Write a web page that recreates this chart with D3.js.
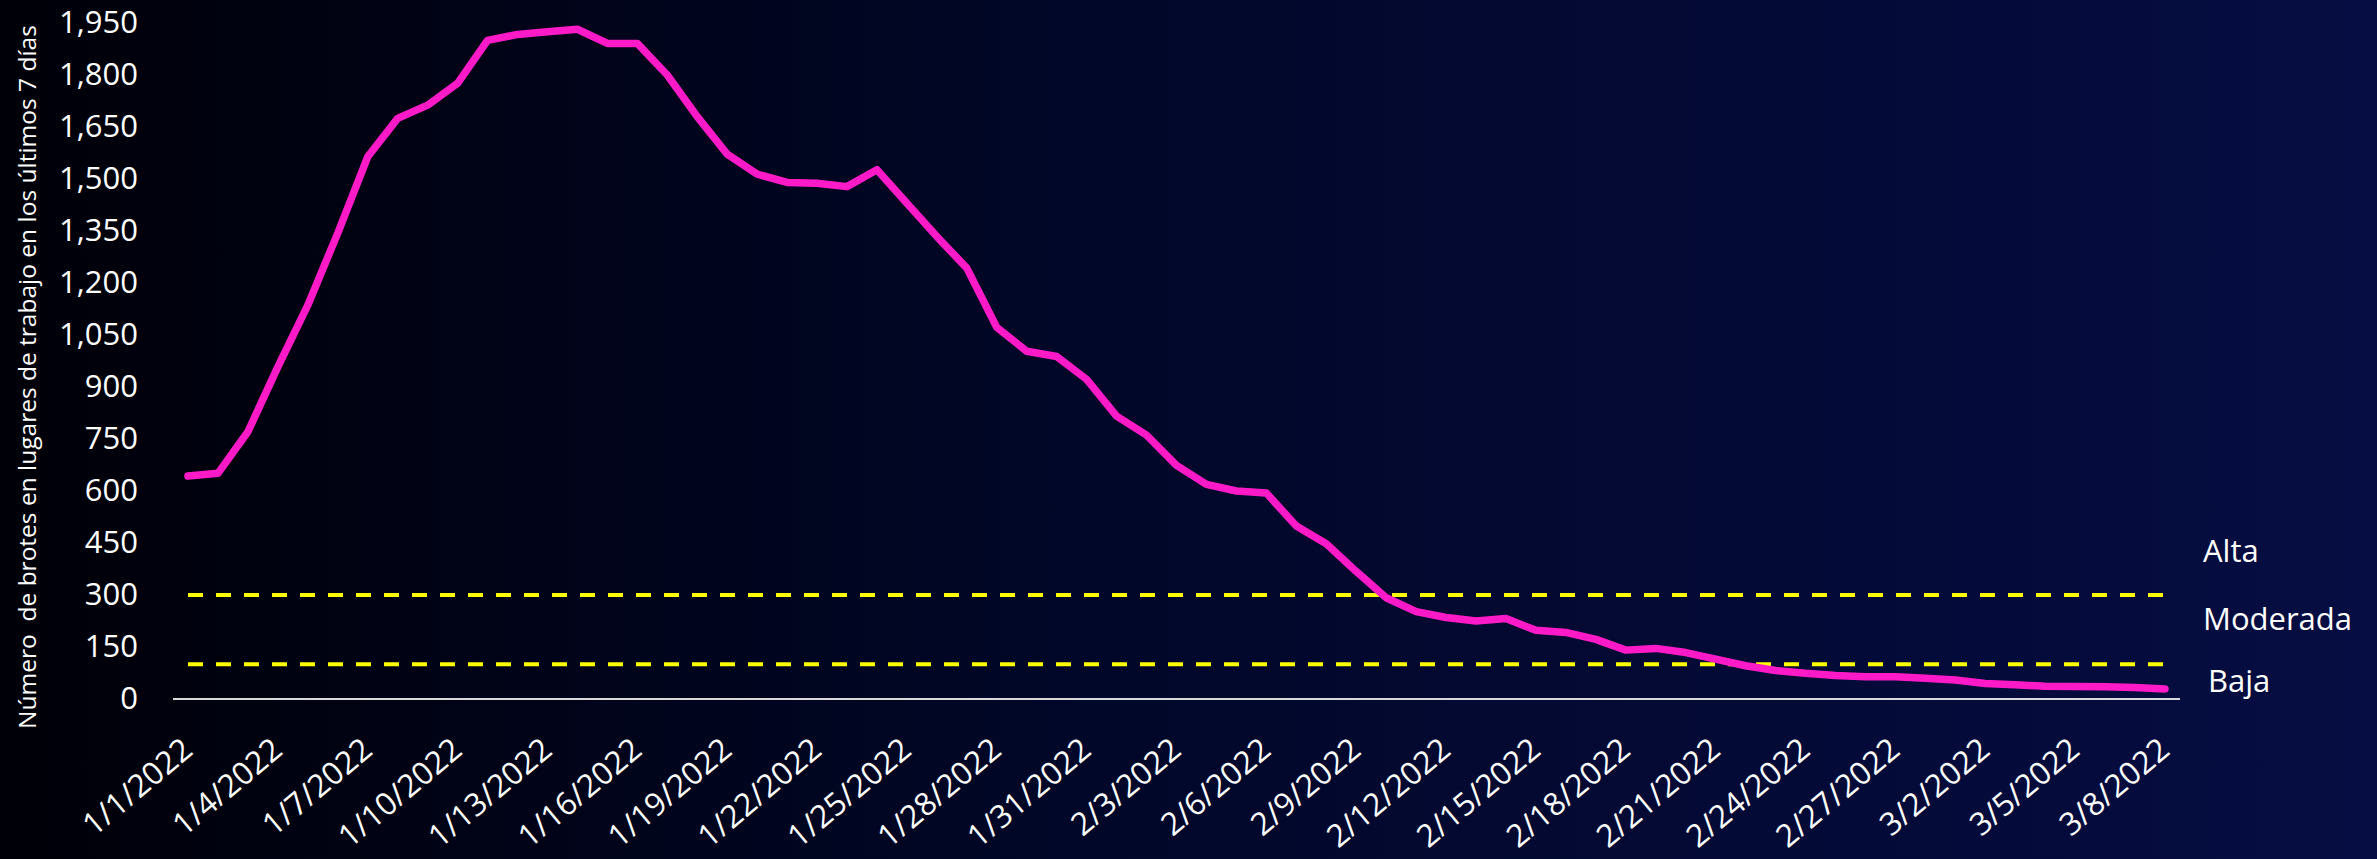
<!DOCTYPE html>
<html>
<head>
<meta charset="utf-8">
<script src="https://cdn.jsdelivr.net/npm/d3@7"></script>
<style>
  body { margin: 0; background: #000; }
  svg { display: block; }
  text { font-family: "Open Sans", sans-serif; fill: #fff; }
</style>
</head>
<body>
<div class="chart"></div>
<script>

const dates = [
  '1/1/2022','1/2/2022','1/3/2022','1/4/2022','1/5/2022','1/6/2022','1/7/2022','1/8/2022','1/9/2022','1/10/2022',
  '1/11/2022','1/12/2022','1/13/2022','1/14/2022','1/15/2022','1/16/2022','1/17/2022','1/18/2022','1/19/2022','1/20/2022',
  '1/21/2022','1/22/2022','1/23/2022','1/24/2022','1/25/2022','1/26/2022','1/27/2022','1/28/2022','1/29/2022','1/30/2022',
  '1/31/2022','2/1/2022','2/2/2022','2/3/2022','2/4/2022','2/5/2022','2/6/2022','2/7/2022','2/8/2022','2/9/2022',
  '2/10/2022','2/11/2022','2/12/2022','2/13/2022','2/14/2022','2/15/2022','2/16/2022','2/17/2022','2/18/2022','2/19/2022',
  '2/20/2022','2/21/2022','2/22/2022','2/23/2022','2/24/2022','2/25/2022','2/26/2022','2/27/2022','2/28/2022','3/1/2022',
  '3/2/2022','3/3/2022','3/4/2022','3/5/2022','3/6/2022','3/7/2022','3/8/2022'
];

// brotes en los ultimos 7 dias
const outbreaks = [
  643, 651, 771, 958, 1136, 1344, 1564, 1675, 1713, 1776,
  1900, 1917, 1925, 1932, 1891, 1891, 1800, 1680, 1572, 1514,
  1490, 1488, 1478, 1527, 1430, 1334, 1243, 1072, 1003, 988,
  922, 816, 761, 674, 619, 600, 594, 499, 448, 368,
  292, 252, 235, 225, 232, 198, 192, 172, 141, 146,
  134, 115, 96, 82, 74, 68, 64, 64, 60, 55,
  45, 41, 37, 36, 35, 33, 29
];

const thresholds = [300, 100];
const zones = ['Alta', 'Moderada', 'Baja'];
const yTicks = [0, 150, 300, 450, 600, 750, 900, 1050, 1200, 1350, 1500, 1650, 1800, 1950];
const xLabels = dates.filter((d, i) => i % 3 == 0);

const width = 2377;
const height = 859;

let svg = d3.select('.chart').append('svg')
  .attr('width', width)
  .attr('height', height)

let grad = svg.append('defs').append('linearGradient')
  .attr('id', 'bg')
  .attr('x1', '0%').attr('y1', '0%')
  .attr('x2', '100%').attr('y2', '0%')

grad.append('stop').attr('offset', '0%').attr('stop-color', '#000008')
grad.append('stop').attr('offset', '45%').attr('stop-color', '#010728')
grad.append('stop').attr('offset', '100%').attr('stop-color', '#060d42')

svg.append('rect')
  .attr('width', width)
  .attr('height', height)
  .attr('fill', 'url(#bg)')

let x = d3.scalePoint()
  .domain(dates)
  .range([188, 2165])

let y = d3.scaleLinear()
  .domain([0, 1950])
  .range([699, 23])

let line = d3.line()
  .x((d, i) => x(dates[i]))
  .y(d => y(d))

// y axis
let yAxis = svg.append('g')
  .attr('transform', 'translate(146,0)')
  .call(d3.axisLeft(y).tickValues(yTicks).tickSize(0).tickPadding(8).tickFormat(d3.format(',')))

yAxis.select('.domain').remove()
yAxis.selectAll('text')
  .attr('font-size', 31)
  .attr('font-family', '"Open Sans", sans-serif')
  .attr('fill', '#fff')

svg.append('text')
  .attr('transform', 'translate(27,377) rotate(-90)')
  .attr('text-anchor', 'middle')
  .attr('dy', '0.35em')
  .attr('font-size', 24.5)
  .style('white-space', 'pre')
  .text('Número  de brotes en lugares de trabajo en los últimos 7 días')

// x axis
let xAxis = svg.append('g')
  .attr('transform', 'translate(0,699)')
  .call(d3.axisBottom(x).tickValues(xLabels).tickSize(0))

xAxis.select('.domain').remove()
xAxis.selectAll('text')
  .attr('x', 0)
  .attr('y', 0)
  .attr('dy', 0)
  .attr('text-anchor', 'end')
  .attr('transform', 'translate(6,54) rotate(-40)')
  .attr('font-size', 31.5)
  .attr('font-family', '"Open Sans", sans-serif')
  .attr('fill', '#fff')

svg.append('line')
  .attr('x1', x(dates[0]) - x.step() / 2)
  .attr('x2', x(dates[dates.length - 1]) + x.step() / 2)
  .attr('y1', y(0))
  .attr('y2', y(0))
  .attr('stroke', '#d9d9d9')
  .attr('stroke-width', 2)

// umbrales
svg.selectAll('.threshold')
  .data(thresholds)
  .enter().append('line')
  .attr('class', 'threshold')
  .attr('x1', x(dates[0]))
  .attr('x2', x(dates[dates.length - 1]))
  .attr('y1', d => y(d))
  .attr('y2', d => y(d))
  .attr('stroke', '#ffff00')
  .attr('stroke-width', 4)
  .attr('stroke-dasharray', '15,13')

svg.append('path')
  .datum(outbreaks)
  .attr('fill', 'none')
  .attr('stroke', '#ff1ac8')
  .attr('stroke-width', 7.5)
  .attr('stroke-linejoin', 'round')
  .attr('stroke-linecap', 'round')
  .attr('d', line)

// etiquetas de zona
let zoneY = [y(thresholds[0]) - 33, (y(thresholds[0]) + y(thresholds[1])) / 2, y(thresholds[1]) + 28];
let zoneX = [2203, 2203, 2208];

svg.selectAll('.zone')
  .data(zones)
  .enter().append('text')
  .attr('class', 'zone')
  .attr('x', (d, i) => zoneX[i])
  .attr('y', (d, i) => zoneY[i])
  .attr('font-size', 31)
  .text(d => d)

</script>
</body>
</html>
